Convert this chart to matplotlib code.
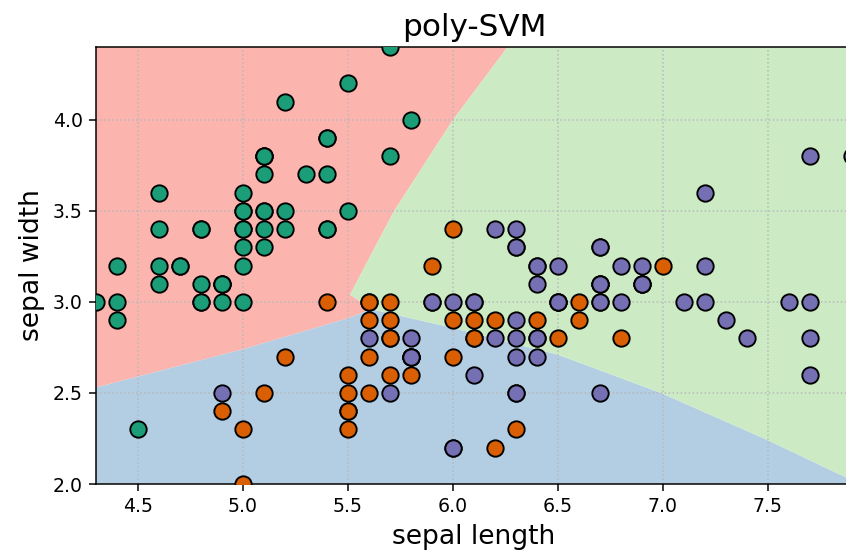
import matplotlib.pyplot as plt
import numpy as np

# iris sepal measurements (length, width) for each species
setosa_len = [5.1, 4.9, 4.7, 4.6, 5.0, 5.4, 4.6, 5.0, 4.4, 4.9, 5.4, 4.8, 4.8, 4.3, 5.8, 5.7, 5.4,
              5.1, 5.7, 5.1, 5.4, 5.1, 4.6, 5.1, 4.8, 5.0, 5.0, 5.2, 5.2, 4.7, 4.8, 5.4, 5.2, 5.5,
              4.9, 5.0, 5.5, 4.9, 4.4, 5.1, 5.0, 4.5, 4.4, 5.0, 5.1, 4.8, 5.1, 4.6, 5.3, 5.0]
setosa_wid = [3.5, 3.0, 3.2, 3.1, 3.6, 3.9, 3.4, 3.4, 2.9, 3.1, 3.7, 3.4, 3.0, 3.0, 4.0, 4.4, 3.9,
              3.5, 3.8, 3.8, 3.4, 3.7, 3.6, 3.3, 3.4, 3.0, 3.4, 3.5, 3.4, 3.2, 3.1, 3.4, 4.1, 4.2,
              3.1, 3.2, 3.5, 3.1, 3.0, 3.4, 3.5, 2.3, 3.2, 3.5, 3.8, 3.0, 3.8, 3.2, 3.7, 3.3]
versi_len = [7.0, 6.4, 6.9, 5.5, 6.5, 5.7, 6.3, 4.9, 6.6, 5.2, 5.0, 5.9, 6.0, 6.1, 5.6, 6.7, 5.6,
             5.8, 6.2, 5.6, 5.9, 6.1, 6.3, 6.1, 6.4, 6.6, 6.8, 6.7, 6.0, 5.7, 5.5, 5.5, 5.8, 6.0,
             5.4, 6.0, 6.7, 6.3, 5.6, 5.5, 5.5, 6.1, 5.8, 5.0, 5.6, 5.7, 5.7, 6.2, 5.1, 5.7]
versi_wid = [3.2, 3.2, 3.1, 2.3, 2.8, 2.8, 3.3, 2.4, 2.9, 2.7, 2.0, 3.0, 2.2, 2.9, 2.9, 3.1, 3.0,
             2.7, 2.2, 2.5, 3.2, 2.8, 2.5, 2.8, 2.9, 3.0, 2.8, 3.0, 2.9, 2.6, 2.4, 2.4, 2.7, 2.7,
             3.0, 3.4, 3.1, 2.3, 3.0, 2.5, 2.6, 3.0, 2.6, 2.3, 2.7, 3.0, 2.9, 2.9, 2.5, 2.8]
virgi_len = [6.3, 5.8, 7.1, 6.3, 6.5, 7.6, 4.9, 7.3, 6.7, 7.2, 6.5, 6.4, 6.8, 5.7, 5.8, 6.4, 6.5,
             7.7, 7.7, 6.0, 6.9, 5.6, 7.7, 6.3, 6.7, 7.2, 6.2, 6.1, 6.4, 7.2, 7.4, 7.9, 6.4, 6.3,
             6.1, 7.7, 6.3, 6.4, 6.0, 6.9, 6.7, 6.9, 5.8, 6.8, 6.7, 6.7, 6.3, 6.5, 6.2, 5.9]
virgi_wid = [3.3, 2.7, 3.0, 2.9, 3.0, 3.0, 2.5, 2.9, 2.5, 3.6, 3.2, 2.7, 3.0, 2.5, 2.8, 3.2, 3.0,
             3.8, 2.6, 2.2, 3.2, 2.8, 2.8, 2.7, 3.3, 3.2, 2.8, 3.0, 2.8, 3.0, 2.8, 3.8, 2.8, 2.8,
             2.6, 3.0, 3.4, 3.1, 3.0, 3.1, 3.1, 3.1, 2.7, 3.2, 3.3, 3.0, 2.5, 3.0, 3.4, 3.0]

# decision boundaries of the poly kernel SVM, traced as polylines
red_green = [(6.26, 4.4), (6.13, 4.2), (6.0, 4.0), (5.86, 3.75), (5.72, 3.5), (5.61, 3.26),
             (5.51, 3.04), (5.61, 2.96)]
red_blue = [(5.61, 2.96), (5.5, 2.91), (5.0, 2.74), (4.3, 2.53)]
blue_green = [(5.61, 2.96), (5.99, 2.86), (6.5, 2.71), (6.99, 2.5), (7.5, 2.24), (7.9, 2.02)]

x_min, x_max = 4.3, 7.9
y_min, y_max = 2.0, 4.4

fig = plt.figure(figsize=(846 / 136, 558 / 136), dpi=136)
ax = fig.add_axes([96 / 846, 1 - 484 / 558, (852 - 96) / 846, (484 - 47) / 558])

red_poly = [(x_min, y_max)] + red_green + red_blue[1:]
blue_poly = red_blue[::-1] + blue_green[1:] + [(x_max, y_min), (x_min, y_min)]
green_poly = [(x_max, y_max)] + red_green + blue_green[1:]

for poly, col in [(red_poly, '#fbb4ae'), (blue_poly, '#b3cde3'), (green_poly, '#ccebc5')]:
    p = np.array(poly)
    ax.fill(p[:, 0], p[:, 1], color=col, linewidth=0, zorder=0)

ax.scatter(setosa_len, setosa_wid, c='#1b9e77', s=75, edgecolors='k', linewidths=1.0, zorder=3)
ax.scatter(versi_len, versi_wid, c='#d95f02', s=75, edgecolors='k', linewidths=1.0, zorder=3)
ax.scatter(virgi_len, virgi_wid, c='#7570b3', s=75, edgecolors='k', linewidths=1.0, zorder=3)

ax.set_xlim(x_min, x_max)
ax.set_ylim(y_min, y_max)
ax.set_xticks([4.5, 5.0, 5.5, 6.0, 6.5, 7.0, 7.5])
ax.set_yticks([2.0, 2.5, 3.0, 3.5, 4.0])
ax.grid(True, linestyle=':', color='#b8b8b8', linewidth=0.8, zorder=1)
ax.tick_params(labelsize=10)
ax.set_xlabel('sepal length', fontsize=14)
ax.set_ylabel('sepal width', fontsize=14)
ax.set_title('poly-SVM', fontsize=16.5)

plt.savefig('out.png', dpi=136)
